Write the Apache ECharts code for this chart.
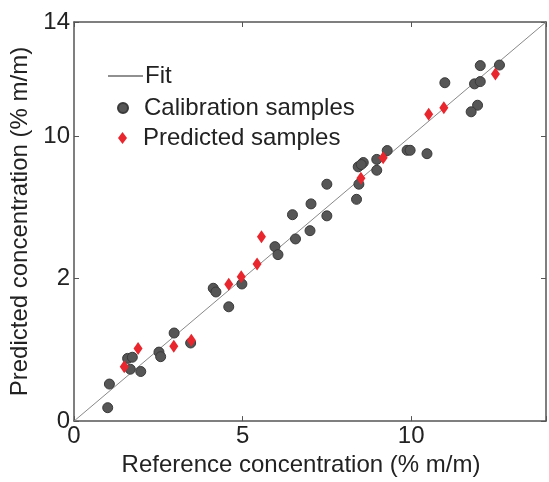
<!DOCTYPE html>
<html>
<head>
<meta charset="utf-8">
<script src="https://cdn.jsdelivr.net/npm/echarts@6/dist/echarts.min.js"></script>
<style>html,body{margin:0;padding:0;background:#fff;}#c{width:549px;height:482px;}</style>
</head>
<body>
<div id="c"></div>
<script>
// ---- data ----
const calibrationX = [12.05,12.62,11.0,11.88,12.05,11.97,11.78,9.29,9.88,9.97,10.47,8.58,8.43,8.52,8.98,8.98,7.50,8.45,8.38,7.03,6.48,7.50,7.0,6.57,5.96,6.05,4.13,4.21,4.98,4.59,2.97,2.52,2.57,1.59,1.73,1.67,1.98,1.05,1.0,3.46];
const calibrationY = [12.47,12.49,11.87,11.83,11.91,11.08,10.85,9.49,9.50,9.50,9.38,9.07,8.92,9.0,9.18,8.80,8.31,8.31,7.78,7.62,7.24,7.20,6.68,6.39,6.12,5.84,4.66,4.53,4.81,4.01,3.09,2.42,2.26,2.20,2.24,1.82,1.74,1.30,0.47,2.74];
const predictedX = [12.5,10.97,10.52,9.17,8.51,5.56,5.43,4.96,4.59,3.48,2.96,1.90,1.49];
const predictedY = [12.18,10.99,10.76,9.24,8.52,6.47,5.51,5.06,4.80,2.84,2.63,2.55,1.91];
const fitX = [0,14];
const fitY = [0,14];
const xTickValues = [0,5,10];
const xTickLabels = ['0','5','10'];
const yTickValues = [0,5,10,14];
const yTickLabels = ['0','2','10','14'];
const seriesNames = ['Fit','Calibration samples','Predicted samples'];
const xTitle = 'Reference concentration (% m/m)';
const yTitle = 'Predicted concentration (% m/m)';

const zip = (a,b)=>a.map((v,i)=>[v,b[i]]);
const FONT = 'Liberation Sans, Arial, sans-serif';
const AX = '#555';
const FS = 24;

const chart = echarts.init(document.getElementById('c'), null, {renderer:'canvas'});
const axisCommon = {
  min:0, max:14, interval:5,
  axisLine:{show:true, onZero:false, lineStyle:{color:AX, width:1.5}},
  axisTick:{show:true, inside:true, length:5, lineStyle:{color:AX}},
  splitLine:{show:false}
};
chart.setOption({
  animation:false,
  backgroundColor:'#fff',
  grid:{left:74, right:2, top:22, bottom:55, containLabel:false},
  xAxis:[
    Object.assign({}, axisCommon, {
      type:'value', position:'bottom',
      name:xTitle, nameLocation:'middle', nameGap:23,
      nameTextStyle:{fontFamily:FONT, fontSize:FS, color:'#222', padding:[0,18,0,0]},
      axisLabel:{margin:3, fontFamily:FONT, fontSize:FS, color:'#222',
        formatter:v=>{const i=xTickValues.indexOf(v);return i<0?'':xTickLabels[i];}}
    }),
    Object.assign({}, axisCommon, {type:'value', position:'top', axisLabel:{show:false}})
  ],
  yAxis:[
    Object.assign({}, axisCommon, {
      type:'value', position:'left',
      name:yTitle, nameLocation:'middle', nameGap:41, nameRotate:90,
      nameTextStyle:{fontFamily:FONT, fontSize:FS, color:'#222'},
      axisLabel:{margin:4, fontFamily:FONT, fontSize:FS, color:'#222',
        formatter:v=>{const i=yTickValues.indexOf(v);return i<0?'':yTickLabels[i];}}
    }),
    Object.assign({}, axisCommon, {type:'value', position:'right', axisLabel:{show:false}})
  ],
  legend:[
    {data:[{name:seriesNames[0], icon:'rect', itemStyle:{color:'#222'}}], orient:'vertical', left:103, top:59, itemWidth:35, itemHeight:1,
     textStyle:{fontFamily:FONT, fontSize:FS, color:'#222', padding:[0,0,0,-3]}},
    {data:[{name:seriesNames[1], icon:'circle'}], orient:'vertical', left:112, top:91, itemWidth:10, itemHeight:10,
     textStyle:{fontFamily:FONT, fontSize:FS, color:'#222', padding:[0,0,0,11]}},
    {data:[{name:seriesNames[2], icon:'diamond'}], orient:'vertical', left:113, top:121, itemWidth:9, itemHeight:12,
     textStyle:{fontFamily:FONT, fontSize:FS, color:'#222', padding:[0,0,0,11]}}
  ],
  series:[
    {name:seriesNames[0], type:'line', data:zip(fitX,fitY), symbol:'none', showSymbol:false,
     lineStyle:{color:'#888', width:1}, itemStyle:{color:'#222'}, z:1},
    {name:seriesNames[1], type:'scatter', data:zip(calibrationX,calibrationY), symbol:'circle', symbolSize:10,
     itemStyle:{color:'#565656', borderColor:'#3a3a3a', borderWidth:1, opacity:1}, z:2},
    {name:seriesNames[2], type:'scatter', data:zip(predictedX,predictedY), symbol:'diamond', symbolSize:[9,13],
     itemStyle:{color:'#e8262d', opacity:1}, z:3}
  ]
});
</script>
</body>
</html>
